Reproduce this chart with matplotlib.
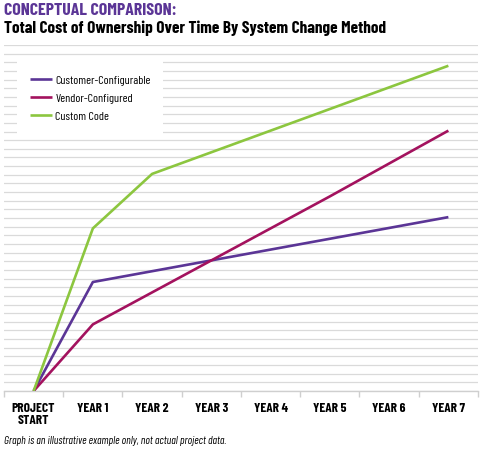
import matplotlib.pyplot as plt
from matplotlib.patches import Rectangle

categories = ['PROJECT\nSTART', 'YEAR 1', 'YEAR 2', 'YEAR 3', 'YEAR 4', 'YEAR 5', 'YEAR 6', 'YEAR 7']
customer_cfg = [0, 12.6, 13.85, 15.1, 16.35, 17.6, 18.85, 20.1]
vendor_cfg = [0, 7.7, 11.4, 15.1, 18.8, 22.5, 26.3, 30.1]
custom_code = [0, 18.8, 25.1, 27.6, 30.1, 32.6, 35.1, 37.6]

series_names = ['Customer-Configurable', 'Vendor-Configured', 'Custom Code']
colors = ['#5b3596', '#a3125e', '#8cc63f']

plt.rcParams['font.family'] = ['Barlow Condensed', 'DejaVu Sans']

W, H = 489, 464
fig = plt.figure(figsize=(W / 100, H / 100), dpi=100)
ax = fig.add_axes([4 / W, 1 - 392 / H, 474 / W, 346 / H])

x = list(range(len(categories)))
for vals, name, c in zip([customer_cfg, vendor_cfg, custom_code], series_names, colors):
    ax.plot(x, vals, color=c, lw=1.9, label=name, solid_capstyle='butt', zorder=3)

ax.set_xlim(-0.5, len(categories) - 0.5)
ax.set_ylim(0, 40)
ax.set_yticks(range(0, 41))
ax.yaxis.grid(True, color='#dadada', lw=0.9)
ax.set_axisbelow(True)
ax.tick_params(axis='y', length=0, labelleft=False)
for s in ['top', 'right', 'left']:
    ax.spines[s].set_visible(False)
ax.spines['bottom'].set_color('#cfcfcf')
ax.spines['bottom'].set_linewidth(1)

ax.set_xticks(x)
ax.set_xticklabels(categories, fontweight='bold', fontsize=9.6, linespacing=1.1)
ax.tick_params(axis='x', length=0, pad=8)
ax.set_xticks([i - 0.5 for i in range(len(categories) + 1)], minor=True)
ax.tick_params(axis='x', which='minor', length=4, color='#cfcfcf', width=1)

# white panel behind the legend
ax.add_patch(Rectangle((17 / W, 1 - 135 / H), 146 / W, 76 / H,
                       transform=fig.transFigure, facecolor='white',
                       edgecolor='none', zorder=2, clip_on=False))
leg = ax.legend(loc='upper left', bbox_to_anchor=(19 / W, 1 - 65 / H),
                bbox_transform=fig.transFigure, frameon=False, fontsize=8.7,
                handlelength=1.8, handletextpad=0.3, labelspacing=0.6)
leg.set_zorder(5)

fig.text(4 / W, 1 - 3 / H, 'CONCEPTUAL COMPARISON:', color='#5b3596',
         fontsize=12.8, fontweight='bold', va='top', ha='left')
fig.text(4 / W, 1 - 20 / H, 'Total Cost of Ownership Over Time By System Change Method',
         color='black', fontsize=12.4, fontweight='bold', va='top', ha='left')
fig.text(4 / W, 1 - 436 / H, 'Graph is an illustrative example only, not actual project data.',
         fontsize=8, style='italic', va='top', ha='left')

fig.savefig('out.png', dpi=100, facecolor='white')
